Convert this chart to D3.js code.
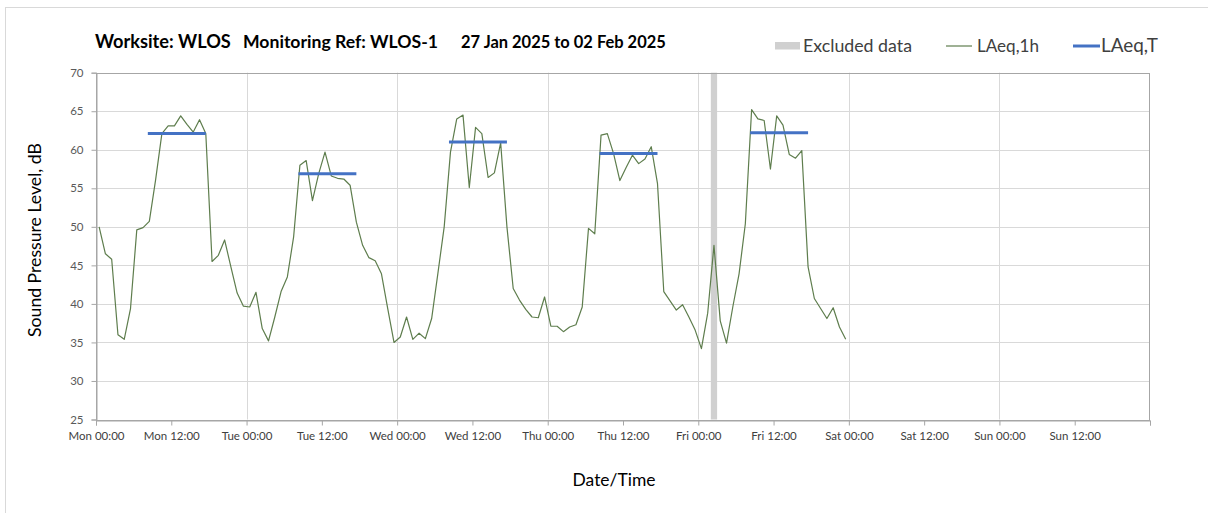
<!DOCTYPE html>
<html>
<head>
<meta charset="utf-8">
<script src="https://cdn.jsdelivr.net/npm/d3@7"></script>
<style>
  html, body { margin: 0; padding: 0; background: #fff; }
  svg { display: block; font-family: Lato, "Open Sans", sans-serif; }
</style>
</head>
<body>
<svg id="chart" width="1208" height="513"></svg>
<script>
// Hourly LAeq,1h readings (dB), one per hour from Mon 27 Jan 2025, stamped mid-hour
const laeq1h = [
  50.0, 46.5, 45.8, 36.0, 35.4, 39.4, 49.6, 49.9, 50.7, 56.1, 62.1, 63.1,
  63.1, 64.4, 63.3, 62.3, 63.9, 62.1, 45.5, 46.3, 48.3, 44.8, 41.4, 39.7,
  39.6, 41.5, 36.8, 35.2, 38.3, 41.6, 43.5, 48.7, 58.0, 58.6, 53.4, 56.9,
  59.7, 56.6, 56.3, 56.2, 55.4, 50.6, 47.6, 46.0, 45.6, 43.9, 39.4, 35.0,
  35.7, 38.3, 35.4, 36.2, 35.5, 38.1, 44.0, 50.0, 59.7, 64.0, 64.5, 55.1,
  62.9, 62.1, 56.4, 57.0, 60.9, 50.0, 42.0, 40.5, 39.3, 38.3, 38.2, 40.9,
  37.1, 37.1, 36.4, 37.0, 37.3, 39.6, 49.8, 49.1, 61.9, 62.1, 59.5, 56.0,
  57.7, 59.3, 58.2, 58.8, 60.4, 55.6, 41.6, 40.4, 39.2, 39.9, 38.3, 36.6,
  34.2, 38.8, 47.6, 37.8, 34.9, 39.6, 43.9, 50.4, 65.2, 64.0, 63.8, 57.5,
  64.4, 63.2, 59.4, 58.9, 59.9, 44.8, 40.7, 39.4, 38.1, 39.5, 37.0, 35.4
];
const firstReading = new Date(2025, 0, 27, 0, 30);

// Daytime LAeq,T values and their assessment periods
const laeqTValues = [62.1, 56.9, 61.0, 59.5, 62.2];
const laeqTStart = ["2025-01-27T08:30", "2025-01-28T08:30", "2025-01-29T08:30", "2025-01-30T08:30", "2025-01-31T08:30"];
const laeqTEnd   = ["2025-01-27T17:30", "2025-01-28T17:30", "2025-01-29T17:30", "2025-01-30T17:30", "2025-01-31T17:30"];

// Excluded data window
const excludedStart = ["2025-01-31T02:00"];
const excludedEnd   = ["2025-01-31T03:00"];

// Axis settings
const yTicks = [25, 30, 35, 40, 45, 50, 55, 60, 65, 70];
const timeStart = new Date(2025, 0, 27, 0, 0);
const timeEnd = new Date(2025, 1, 3, 0, 0);

const titleParts = ["Worksite: WLOS", "Monitoring Ref: WLOS-1", "27 Jan 2025 to 02 Feb 2025"];
const legendLabels = ["Excluded data", "LAeq,1h", "LAeq,T"];

const svg = d3.select("#chart");
const plotLeft = 96, plotRight = 1150, plotTop = 72.7, plotBottom = 419.5;

const x = d3.scaleTime().domain([timeStart, timeEnd]).range([plotLeft, plotRight]);
const y = d3.scaleLinear().domain([25, 70]).range([plotBottom, plotTop]);

const parse = d3.timeParse("%Y-%m-%dT%H:%M");

// Scale a text node's font size so it spans the given width
function fitWidth(sel, width) {
  sel.each(function () {
    const fs = parseFloat(this.getAttribute("font-size"));
    const w = this.getComputedTextLength();
    if (w > 0) this.setAttribute("font-size", (fs * width / w).toFixed(2));
  });
}

// Outer chart frame
svg.append("rect")
  .attr("x", 5.5).attr("y", 7.5).attr("width", 1300).attr("height", 600)
  .attr("fill", "none").attr("stroke", "#d9d9d9");

// Horizontal gridlines
svg.append("g").selectAll("line").data(yTicks).join("line")
  .attr("x1", plotLeft).attr("x2", plotRight)
  .attr("y1", d => Math.round(y(d)) + 0.5).attr("y2", d => Math.round(y(d)) + 0.5)
  .attr("stroke", "#d9d9d9").attr("stroke-width", 1);

// Vertical gridlines at midnight
const midnights = d3.timeDay.range(d3.timeDay.offset(timeStart, 1), timeEnd);
svg.append("g").selectAll("line").data(midnights).join("line")
  .attr("x1", d => Math.round(x(d)) + 0.5).attr("x2", d => Math.round(x(d)) + 0.5)
  .attr("y1", plotTop).attr("y2", plotBottom)
  .attr("stroke", "#d9d9d9").attr("stroke-width", 1);

// Excluded data band
svg.append("g").selectAll("rect").data(excludedStart.map((s, i) => [parse(s), parse(excludedEnd[i])])).join("rect")
  .attr("x", d => x(d[0])).attr("width", d => x(d[1]) - x(d[0]))
  .attr("y", plotTop).attr("height", plotBottom - plotTop)
  .attr("fill", "#d0d0d0");

// Plot border
svg.append("rect")
  .attr("x", plotLeft + 0.5).attr("y", Math.round(plotTop) + 0.5)
  .attr("width", plotRight - plotLeft - 1).attr("height", Math.round(plotBottom) - Math.round(plotTop))
  .attr("fill", "none").attr("stroke", "#a6a6a6");

// Y axis
const yAxis = svg.append("g")
  .attr("transform", `translate(${plotLeft + 0.5},0)`)
  .call(d3.axisLeft(y).tickValues(yTicks).tickSize(5).tickPadding(8).tickFormat(d3.format("d")));
yAxis.select(".domain").attr("stroke", "#a6a6a6");
yAxis.selectAll(".tick line").attr("stroke", "#a6a6a6");
yAxis.selectAll(".tick text").attr("font-size", 11.5).attr("fill", "#595959")
  .attr("font-family", "Lato, sans-serif");

// X axis, ticks every 12 hours
const xTicks = d3.timeHour.every(12).range(timeStart, d3.timeHour.offset(timeEnd, 1));
const fmt = d3.timeFormat("%a %H:%M");
const xAxis = svg.append("g")
  .attr("transform", `translate(0,${Math.round(plotBottom) + 0.5})`)
  .call(d3.axisBottom(x).tickValues(xTicks).tickSize(5).tickPadding(6)
    .tickFormat(d => +d === +timeEnd ? "" : fmt(d)));
xAxis.select(".domain").attr("stroke", "#a6a6a6");
xAxis.selectAll(".tick line").attr("stroke", "#a6a6a6");
xAxis.selectAll(".tick text").attr("font-size", 11.5).attr("fill", "#404040")
  .attr("font-family", "Lato, sans-serif");

// LAeq,1h line
const readings = laeq1h.map((v, i) => ({ t: d3.timeHour.offset(firstReading, i), v }));
svg.append("path")
  .datum(readings)
  .attr("fill", "none")
  .attr("stroke", "#5e7d4d")
  .attr("stroke-width", 1.2)
  .attr("stroke-linejoin", "round")
  .attr("d", d3.line().x(d => x(d.t)).y(d => y(d.v)));

// LAeq,T segments
svg.append("g").selectAll("line")
  .data(laeqTValues.map((v, i) => ({ v, s: parse(laeqTStart[i]), e: parse(laeqTEnd[i]) })))
  .join("line")
  .attr("x1", d => x(d.s) - 1.5).attr("x2", d => x(d.e))
  .attr("y1", d => y(d.v)).attr("y2", d => y(d.v))
  .attr("stroke", "#4472c4").attr("stroke-width", 3);

// Title
const titleX = [95, 243, 461];
const titleW = [136, 195, 205];
svg.append("g").selectAll("text").data(titleParts).join("text")
  .attr("x", (d, i) => titleX[i]).attr("y", 47.5)
  .attr("font-size", 15).attr("font-weight", "bold").attr("fill", "#000")
  .text(d => d)
  .each(function (d, i) { fitWidth(d3.select(this), titleW[i]); });

// Legend
const lg = svg.append("g");
lg.append("rect").attr("x", 775).attr("y", 42).attr("width", 25).attr("height", 7.5).attr("fill", "#d0d0d0");
lg.append("line").attr("x1", 946).attr("x2", 972).attr("y1", 46).attr("y2", 46)
  .attr("stroke", "#5e7d4d").attr("stroke-width", 1.2);
lg.append("line").attr("x1", 1073).attr("x2", 1100).attr("y1", 46).attr("y2", 46)
  .attr("stroke", "#4472c4").attr("stroke-width", 3);
const legX = [803, 977, 1101];
const legW = [109, 62, 57];
lg.selectAll("text").data(legendLabels).join("text")
  .attr("x", (d, i) => legX[i]).attr("y", 51.5)
  .attr("font-size", 16).attr("fill", "#404040")
  .text(d => d)
  .each(function (d, i) { fitWidth(d3.select(this), legW[i]); });

// Axis titles
svg.append("text")
  .attr("transform", "translate(41,240) rotate(-90)")
  .attr("text-anchor", "middle").attr("font-size", 15).attr("fill", "#000")
  .text("Sound Pressure Level, dB")
  .call(sel => fitWidth(sel, 194));

svg.append("text")
  .attr("x", 614).attr("y", 486).attr("text-anchor", "middle")
  .attr("font-size", 16).attr("fill", "#000")
  .text("Date/Time")
  .call(sel => fitWidth(sel, 83));
</script>
</body>
</html>
